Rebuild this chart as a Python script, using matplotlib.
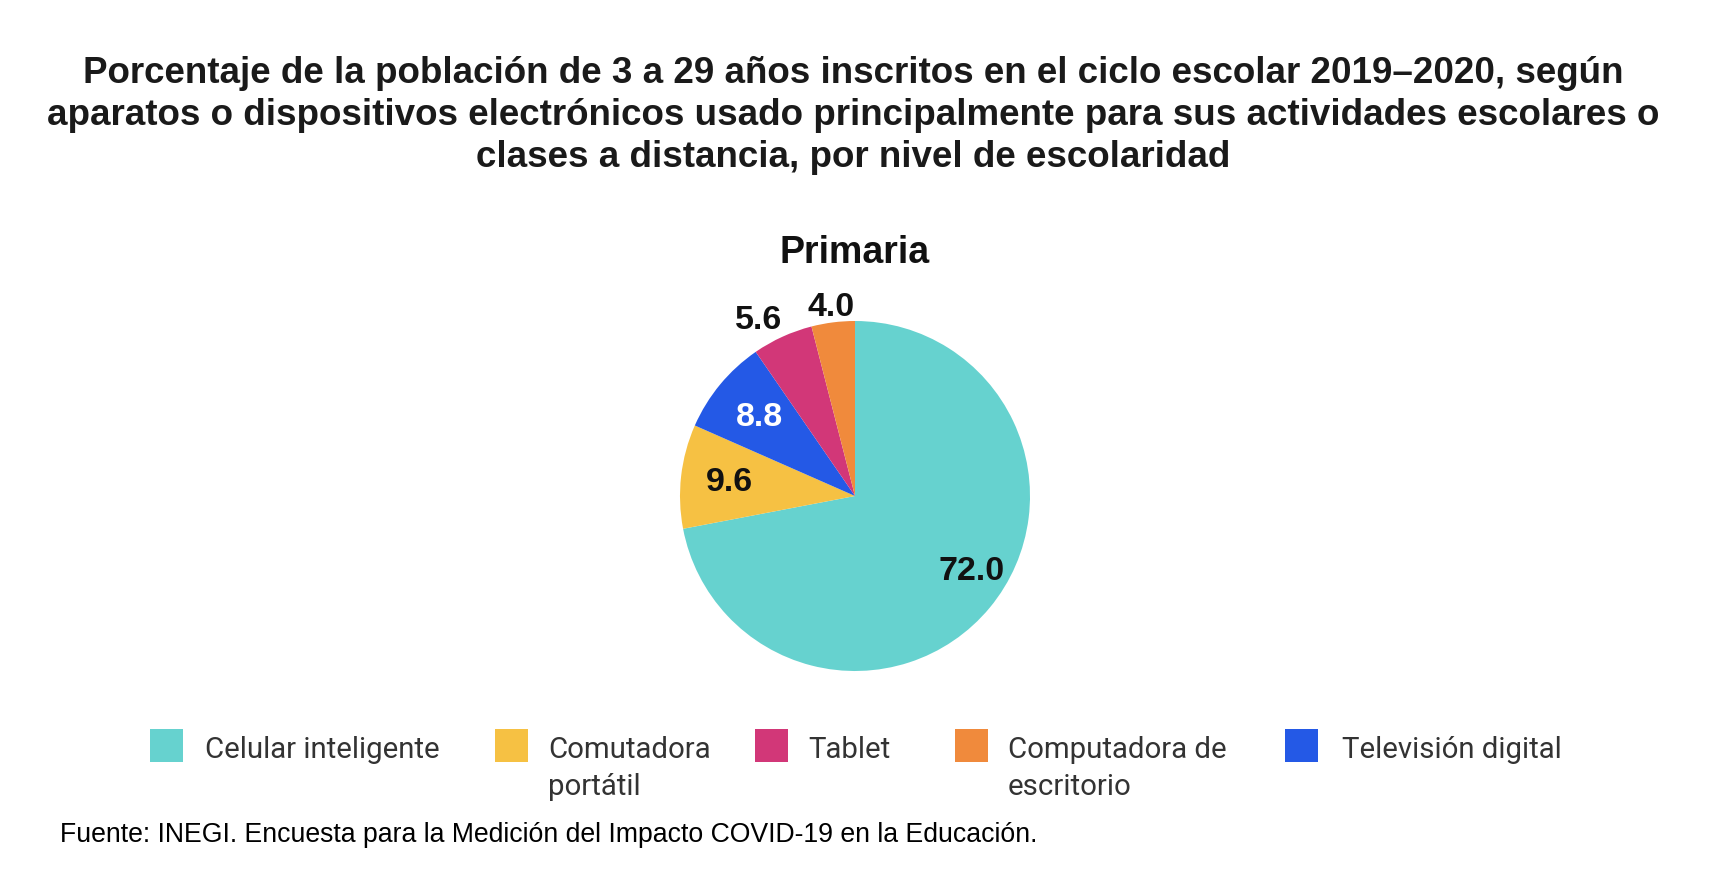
import numpy as np
import matplotlib.pyplot as plt
from matplotlib.patches import Rectangle

W, H = 1714, 870

titulo = ['Porcentaje de la población de 3 a 29 años inscritos en el ciclo escolar 2019–2020, según',
          'aparatos o dispositivos electrónicos usado principalmente para sus actividades escolares o',
          'clases a distancia, por nivel de escolaridad']
subtitulo = 'Primaria'
fuente = 'Fuente: INEGI. Encuesta para la Medición del Impacto COVID-19 en la Educación.'

# orden de la leyenda
categorias = ['Celular inteligente', 'Comutadora\nportátil', 'Tablet',
              'Computadora de\nescritorio', 'Televisión digital']
valores = [72.0, 9.6, 5.6, 4.0, 8.8]
colores = ['#66d2cf', '#f6c143', '#d23778', '#f08a3c', '#2459e6']
color_etiqueta = ['#111111', '#111111', '#111111', '#111111', '#ffffff']
# radio relativo y giro (grados) de cada etiqueta
dist_etiqueta = [0.79, 0.72, 1.15, 1.09, 0.71]
giro_etiqueta = [7, 0, 4, 0, 0]

# x de cada cuadro y texto de la leyenda (px)
ley_cuadro_x = [150, 495, 755, 955, 1285]
ley_texto_x = [205, 548, 808, 1008, 1342]


def px(x, y):
    return x / W, 1 - y / H


fig = plt.figure(figsize=(W / 100, H / 100), dpi=100)

for i, linea in enumerate(titulo):
    fig.text(*px(853, 83 + 42 * i), linea, ha='center', va='baseline',
             fontsize=26.5, fontweight='bold', family='Liberation Sans', color='#1a1a1a')

fig.text(*px(855, 263), subtitulo, ha='center', va='baseline',
         fontsize=27, fontweight='bold', family='Liberation Sans', color='#111111')

cx, cy, r = 855, 497, 175
ax = fig.add_axes([(cx - r) / W, (H - cy - r) / H, 2 * r / W, 2 * r / H])
orden = np.argsort(valores)[::-1]
wedges, _ = ax.pie(np.array(valores)[orden], colors=[colores[k] for k in orden],
                   startangle=90, counterclock=False, wedgeprops=dict(linewidth=0))
ax.set_xlim(-1, 1)
ax.set_ylim(-1, 1)
ax.set_aspect('equal')

for w, k in zip(wedges, orden):
    ang = np.deg2rad((w.theta1 + w.theta2) / 2 + giro_etiqueta[k])
    d = dist_etiqueta[k]
    ax.text(d * np.cos(ang), d * np.sin(ang), '%.1f' % valores[k], ha='center', va='center',
            fontsize=24.5, fontweight='bold', family='Liberation Sans', color=color_etiqueta[k])

for i in range(len(categorias)):
    x0, y0 = px(ley_cuadro_x[i], 763)
    fig.add_artist(Rectangle((x0, y0), 33 / W, 33 / H, transform=fig.transFigure,
                             facecolor=colores[i], edgecolor='none'))
    for j, linea in enumerate(categorias[i].split('\n')):
        fig.text(*px(ley_texto_x[i], 758 + 37 * j), linea, ha='left', va='baseline',
                 fontsize=21.2, family='Roboto', color='#333333')

fig.text(*px(60, 842), fuente, ha='left', va='baseline',
         fontsize=19.2, family='Liberation Sans', color='#000000')

fig.savefig('out.png', dpi=100, facecolor='white')
